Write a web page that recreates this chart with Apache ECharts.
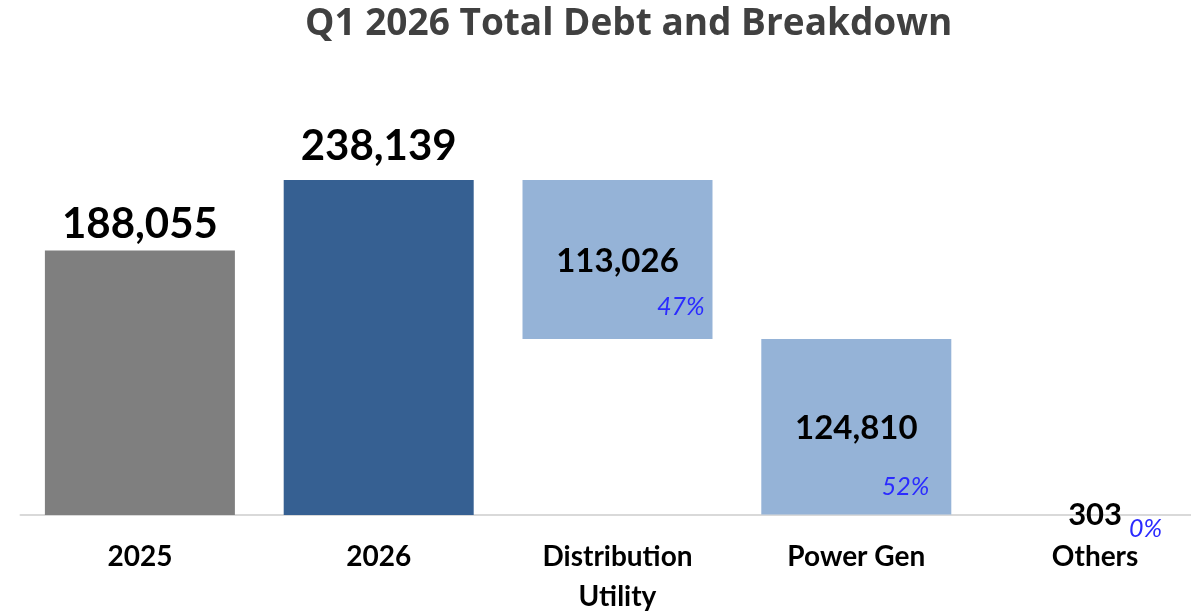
<!DOCTYPE html>
<html>
<head>
<meta charset="utf-8">
<script src="https://cdn.jsdelivr.net/npm/echarts@6/dist/echarts.min.js"></script>
<style>
    html, body { margin: 0; padding: 0; background: #fff; }
    #J_debtChart { width: 1191px; height: 611px; }
</style>
</head>
<body>
<div id="J_debtChart"></div>
<script>
var categories = ['2025', '2026', 'Distribution\nUtility', 'Power Gen', 'Others'];
var totals = [188055, 238139];
var breakdown = [113026, 124810, 303];
var shares = ['47%', '52%', '0%'];

var totalColors = ['#7f7f7f', '#366092'];
var partColor = '#95b3d7';

// waterfall: each part hangs below the previous one, starting from the 2026 total
var baseData = ['-', '-'];
var valueData = [];
var shareData = ['-', '-'];
var running = totals[1];

totals.forEach(function (v, i) {
    valueData.push({
        value: v,
        itemStyle: {color: totalColors[i]},
        label: {position: 'top', distance: i === 1 ? 13 : 5, fontSize: 42}
    });
});

var shareOffsets = [[-3, -15], [-17, -10], [-23, 31]];
breakdown.forEach(function (v, i) {
    running = running - v;
    baseData.push(running);
    valueData.push({
        value: v,
        // the Others bar is too thin to see in the original
        itemStyle: {color: i === 2 ? 'transparent' : partColor},
        label: {position: 'inside', fontSize: i === 2 ? 31 : 33, offset: i === 2 ? [0, 0] : [0, 2]}
    });
    shareData.push({
        value: v,
        label: {offset: shareOffsets[i]},
        name: shares[i]
    });
});

var chart = echarts.init(document.getElementById('J_debtChart'));

var option = {
    animation: false,
    title: {
        text: 'Q1 2026 Total Debt and Breakdown',
        left: 300,
        top: 1,
        textStyle: {
            fontFamily: 'Open Sans',
            fontWeight: 'bold',
            fontSize: 37,
            color: '#404040'
        }
    },
    grid: {left: 20.5, width: 1194, top: 163.3, bottom: 96, outerBoundsMode: 'none', containLabel: false},
    xAxis: {
        type: 'category',
        data: categories,
        axisLine: {lineStyle: {color: '#d9d9d9', width: 2}},
        axisTick: {show: false},
        axisLabel: {
            interval: 0,
            margin: 22,
            fontFamily: 'Lato',
            fontWeight: 'bold',
            fontSize: 28,
            lineHeight: 40,
            color: '#000'
        }
    },
    yAxis: {
        type: 'value',
        min: 0,
        max: 250000,
        show: false
    },
    series: [
        {
            name: 'base',
            type: 'bar',
            stack: 'wf',
            barWidth: 190,
            barGap: '-100%',
            itemStyle: {color: 'transparent'},
            data: baseData
        },
        {
            name: 'value',
            type: 'bar',
            stack: 'wf',
            barWidth: 190,
            barGap: '-100%',
            label: {
                show: true,
                fontFamily: 'Lato',
                fontWeight: 'bold',
                color: '#000',
                formatter: function (p) {
                    return p.value.toLocaleString('en-US');
                }
            },
            data: valueData
        },
        {
            name: 'shareBase',
            type: 'bar',
            stack: 'pct',
            barWidth: 190,
            barGap: '-100%',
            itemStyle: {color: 'transparent'},
            data: baseData
        },
        {
            name: 'share',
            type: 'bar',
            stack: 'pct',
            barWidth: 190,
            barGap: '-100%',
            itemStyle: {color: 'transparent'},
            label: {
                show: true,
                position: 'insideBottomRight',
                fontFamily: 'Lato',
                fontStyle: 'italic',
                fontSize: 25,
                color: '#2b2bff',
                formatter: function (p) {
                    return p.name;
                }
            },
            data: shareData
        }
    ]
};

chart.setOption(option);
</script>
</body>
</html>
